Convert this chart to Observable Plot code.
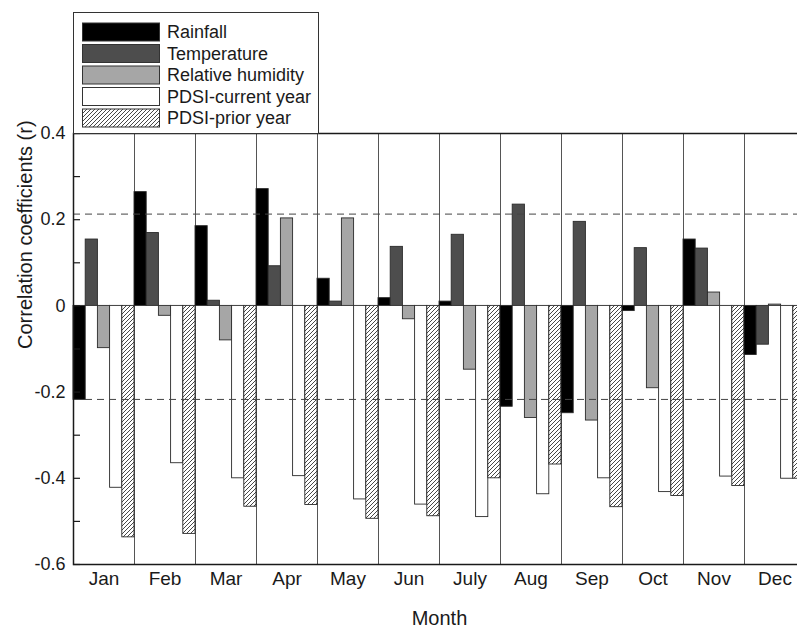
<!DOCTYPE html>
<html><head><meta charset="utf-8">
<script src="https://cdn.jsdelivr.net/npm/d3@7"></script>
<script src="https://cdn.jsdelivr.net/npm/@observablehq/plot@0.6"></script>
<style>
html,body{margin:0;padding:0;background:#fff;overflow:hidden;}
#wrap{position:relative;width:797px;height:632px;overflow:hidden;background:#fff;}
#wrap > svg{position:absolute;left:0;top:0;max-width:none !important;height:auto;}
#legend{position:absolute;left:0;top:0;}
</style></head><body>
<svg width="0" height="0" style="position:absolute"><defs>
<pattern id="hatch" patternUnits="userSpaceOnUse" width="4" height="4">
<rect width="4" height="4" fill="#fff"/>
<path d="M-1,1 l2,-2 M0,4 l4,-4 M3,5 l2,-2" stroke="#333" stroke-width="0.9"/>
</pattern></defs></svg>
<div id="wrap"></div>
<script>
const months = ["Jan","Feb","Mar","Apr","May","Jun","July","Aug","Sep","Oct","Nov","Dec"];
const series = ["Rainfall","Temperature","Relative humidity","PDSI-current year","PDSI-prior year"];
const rainfall    = [-0.218, 0.264, 0.185, 0.271, 0.063, 0.018, 0.010, -0.234, -0.249, -0.012, 0.154, -0.114];
const temperature = [0.154, 0.169, 0.012, 0.092, 0.010, 0.137, 0.165, 0.235, 0.195, 0.134, 0.133, -0.090];
const humidity    = [-0.098, -0.023, -0.080, 0.203, 0.203, -0.031, -0.148, -0.260, -0.266, -0.191, 0.031, 0.003];
const pdsiCurrent = [-0.422, -0.365, -0.400, -0.395, -0.449, -0.461, -0.490, -0.437, -0.400, -0.432, -0.396, -0.401];
const pdsiPrior   = [-0.537, -0.529, -0.466, -0.462, -0.494, -0.488, -0.400, -0.368, -0.467, -0.441, -0.418, -0.401];
const thresholds = [0.213, -0.217];
const yMajorTicks = [-0.6, -0.4, -0.2, 0, 0.2, 0.4];
const yAllTicks = [-0.6, -0.5, -0.4, -0.3, -0.2, -0.1, 0, 0.1, 0.2, 0.3, 0.4];
const seriesColors = ["#000000", "#4d4d4d", "#a6a6a6", "#ffffff", "url(#hatch)"];

const valueSeries = [rainfall, temperature, humidity, pdsiCurrent, pdsiPrior];
const table = months.flatMap((m, i) => series.map((s, j) => ({month: m, mi: i, series: s, sj: j, value: valueSeries[j][i]})));
const nS = series.length;
const font = "'Liberation Sans', Arial, sans-serif";

const chart = Plot.plot({
  width: 810, height: 632,
  marginTop: 133, marginBottom: 68, marginLeft: 73, marginRight: 5,
  style: {fontFamily: font, fontSize: "18px", background: "transparent", color: "#1a1a1a", maxWidth: "none"},
  x: {domain: [0, months.length], axis: null},
  y: {domain: [-0.6, 0.4], axis: null},
  color: {domain: series, range: seriesColors},
  marks: [
    Plot.ruleX(d3.range(1, months.length), {stroke: "#555", strokeWidth: 1}),
    Plot.rectY(table, {
      x1: d => d.mi + d.sj / nS, x2: d => d.mi + (d.sj + 1) / nS,
      y1: 0, y2: "value", fill: "series", stroke: "#2a2a2a", strokeWidth: 0.9
    }),
    Plot.ruleY(thresholds, {stroke: "#444", strokeWidth: 1, strokeDasharray: "7,5"}),
    Plot.frame({stroke: "#1a1a1a", strokeWidth: 1.5}),
    Plot.axisY({ticks: yAllTicks, tickSize: -7, tickFormat: () => "", strokeWidth: 1.2, label: null}),
    Plot.axisY({ticks: yMajorTicks, tickSize: 0, tickPadding: 8, fontSize: 18,
      tickFormat: d => d === 0 ? "0" : d.toFixed(1), label: null}),
    Plot.axisX({ticks: months.map((m, i) => i + 0.5), tickSize: 0, tickPadding: 7, fontSize: 19,
      tickFormat: d => months[Math.floor(d)], label: null}),
    Plot.text(["Month"], {frameAnchor: "bottom", dy: 60, fontSize: 20, fill: "#1a1a1a"}),
    Plot.text(["Correlation coefficients (r)"], {frameAnchor: "left", dx: -48, rotate: -90, fontSize: 20, fill: "#1a1a1a"})
  ]
});
chart.style.maxWidth = "none";
document.getElementById("wrap").appendChild(chart);

// Legend
const legend = d3.create("svg").attr("id", "legend").attr("width", 330).attr("height", 140)
  .style("font-family", font);
legend.append("rect").attr("x", 73.5).attr("y", 12.5).attr("width", 245).attr("height", 121)
  .attr("fill", "#fff").attr("stroke", "#333").attr("stroke-width", 1);
series.forEach((s, i) => {
  const y0 = 23 + i * 21.5;
  legend.append("rect").attr("x", 82.5).attr("y", y0).attr("width", 77).attr("height", 18)
    .attr("fill", seriesColors[i]).attr("stroke", "#333").attr("stroke-width", 1);
  legend.append("text").attr("x", 167).attr("y", y0 + 15).attr("font-size", 18).attr("fill", "#1a1a1a").text(s);
});
document.getElementById("wrap").appendChild(legend.node());
</script>
</body></html>
